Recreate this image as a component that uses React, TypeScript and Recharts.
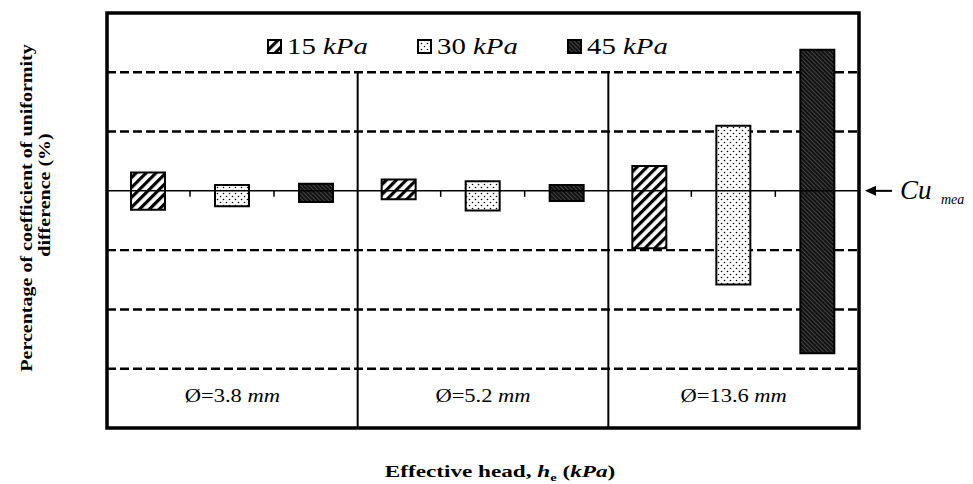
import React from 'react';
import {
  BarChart,
  Bar,
  XAxis,
  YAxis,
  CartesianGrid,
  ReferenceLine,
  ReferenceArea,
  Legend,
  Rectangle
} from 'recharts';

// diameter groups and pressure series
const groups = ['Ø=3.8', 'Ø=5.2', 'Ø=13.6'];
const pressures = ['15', '30', '45'];

// range of each bar (low, high), % difference from Cu mea
const low15 = [-1.6, -0.7, -4.85];
const high15 = [1.55, 0.95, 2.1];
const low30 = [-1.3, -1.65, -7.9];
const high30 = [0.5, 0.8, 5.5];
const low45 = [-0.95, -0.85, -13.7];
const high45 = [0.6, 0.5, 11.9];

const gridValues = [-15, -10, -5, 5, 10];
const yDomain = [-20, 15];
const dividerTop = 10;

const data = groups.map((g, i) => ({
  group: g,
  p15: [low15[i], high15[i]],
  p30: [low30[i], high30[i]],
  p45: [low45[i], high45[i]]
}));

const BAR_SIZE = 34;
const BAR_GAP = 50;

const patternIds: Record<string, string> = { '15': 'hatch15', '30': 'dots30', '45': 'dark45' };

const serif = '"Liberation Serif", "Times New Roman", serif';

const GroupTick = (props: any) => {
  const { x, y, payload } = props;
  return (
    <text
      transform={`translate(${x},${y - 34}) scale(1.25,1)`}
      textAnchor="middle"
      fontFamily={serif}
      fontSize={18}
      fill="#000"
    >
      <tspan>{payload.value} </tspan>
      <tspan fontStyle="italic">mm</tspan>
    </text>
  );
};

// bar with the small tick on the Cu line at the left edge of its slot
const makeBarShape = (key: string, withTick: boolean) => (props: any) => {
  const { x, y, width, height, fill, stroke, strokeWidth, payload } = props;
  const [lo, hi] = payload[key];
  const zeroY = y + (height * hi) / (hi - lo);
  const tickX = x + width / 2 - (BAR_SIZE + BAR_GAP) / 2;
  return (
    <g>
      <Rectangle x={x} y={y} width={width} height={height} fill={fill} stroke={stroke} strokeWidth={strokeWidth} />
      {withTick && <line x1={tickX} y1={zeroY} x2={tickX} y2={zeroY + 6} stroke="#000" strokeWidth={1.5} />}
    </g>
  );
};

const CuLabel = (props: any) => {
  const { viewBox } = props;
  const xr = viewBox.x + viewBox.width;
  const y = viewBox.y;
  return (
    <g>
      <line x1={xr + 12} y1={y} x2={xr + 33} y2={y} stroke="#000" strokeWidth={2} />
      <polygon points={`${xr + 6},${y} ${xr + 17},${y - 5} ${xr + 17},${y + 5}`} fill="#000" />
      <text x={xr + 41} y={y + 8} fontFamily={serif} fontStyle="italic" fontSize={27} fill="#000">
        Cu
      </text>
      <text x={xr + 82} y={y + 13} fontFamily={serif} fontStyle="italic" fontSize={14} fill="#000">
        mea
      </text>
    </g>
  );
};

const renderLegend = () => (
  <div style={{ display: 'flex', paddingLeft: 267, fontFamily: serif, fontSize: 24, lineHeight: '28px' }}>
    {pressures.map(p => (
      <div key={p} style={{ display: 'flex', alignItems: 'center', width: 150 }}>
        <svg width={15} height={15} style={{ marginRight: 5 }}>
          <rect x={1} y={1} width={13} height={13} fill={`url(#${patternIds[p]})`} stroke="#000" strokeWidth={2} />
        </svg>
        <span style={{ display: 'inline-block', transform: 'scaleX(1.2)', transformOrigin: 'left center' }}>
          {p} <i>kPa</i>
        </span>
      </div>
    ))}
  </div>
);

export default function App() {
  return (
    <div style={{ position: 'absolute', left: 0, top: 0, width: 973, height: 484, background: '#fff' }}>
      <BarChart
        width={973}
        height={484}
        data={data}
        margin={{ top: 13, right: 114, left: 107, bottom: 36 }}
        barSize={BAR_SIZE}
        barGap={BAR_GAP}
      >
        <defs>
          <pattern id="hatch15" patternUnits="userSpaceOnUse" width={7} height={7} patternTransform="rotate(45)">
            <rect width={7} height={7} fill="#fff" />
            <rect width={3.2} height={7} fill="#000" />
          </pattern>
          <pattern id="dots30" patternUnits="userSpaceOnUse" width={6} height={6}>
            <rect width={6} height={6} fill="#fff" />
            <circle cx={1.5} cy={1.5} r={0.8} fill="#000" />
            <circle cx={4.5} cy={4.5} r={0.8} fill="#000" />
          </pattern>
          <pattern id="dark45" patternUnits="userSpaceOnUse" width={3} height={3} patternTransform="rotate(-45)">
            <rect width={3} height={3} fill="#111" />
            <rect width={0.7} height={3} fill="#5a5a5a" />
          </pattern>
        </defs>
        <CartesianGrid
          vertical={false}
          horizontalValues={gridValues}
          stroke="#000"
          strokeWidth={2.4}
          strokeDasharray="9 4"
        />
        <XAxis dataKey="group" height={20} axisLine={false} tickLine={false} tick={<GroupTick />} interval={0} />
        <YAxis domain={yDomain} ticks={gridValues} hide allowDataOverflow />
        <Legend
          verticalAlign="middle"
          align="center"
          content={renderLegend}
          wrapperStyle={{ top: 32, left: 0, width: 973 }}
        />
        {pressures.map((p, i) => (
          <Bar
            key={p}
            dataKey={`p${p}`}
            name={`${p} kPa`}
            fill={`url(#${patternIds[p]})`}
            stroke="#000"
            strokeWidth={2}
            shape={makeBarShape(`p${p}`, i > 0)}
            isAnimationActive={false}
          />
        ))}
        <ReferenceLine y={0} stroke="#000" strokeWidth={1.5} label={<CuLabel />} />
        {groups.slice(1).map(g => (
          <ReferenceLine
            key={g}
            position="start"
            segment={[{ x: g, y: dividerTop }, { x: g, y: yDomain[0] }]}
            stroke="#000"
            strokeWidth={2}
          />
        ))}
        <ReferenceArea
          x1={groups[0]}
          x2={groups[groups.length - 1]}
          y1={yDomain[0]}
          y2={yDomain[1]}
          fill="none"
          fillOpacity={0}
          stroke="#000"
          strokeWidth={3.5}
        />
      </BarChart>
      <svg width={973} height={484} style={{ position: 'absolute', left: 0, top: 0, pointerEvents: 'none' }}>
        <text
          transform="translate(32,208) rotate(-90) scale(1.25,1)"
          textAnchor="middle"
          fontFamily={serif}
          fontWeight="bold"
          fontSize={16}
          fill="#000"
        >
          Percentage of coefficient of uniformity
        </text>
        <text
          transform="translate(50,195) rotate(-90) scale(1.25,1)"
          textAnchor="middle"
          fontFamily={serif}
          fontWeight="bold"
          fontSize={16}
          fill="#000"
        >
          difference (%)
        </text>
        <text
          transform="translate(500,477) scale(1.45,1)"
          textAnchor="middle"
          fontFamily={serif}
          fontWeight="bold"
          fontSize={16}
          fill="#000"
        >
          Effective head, <tspan fontStyle="italic">h</tspan>
          <tspan fontSize={10} dy={4}>e</tspan>
          <tspan dy={-4}> (</tspan>
          <tspan fontStyle="italic">kPa</tspan>)
        </text>
      </svg>
    </div>
  );
}
